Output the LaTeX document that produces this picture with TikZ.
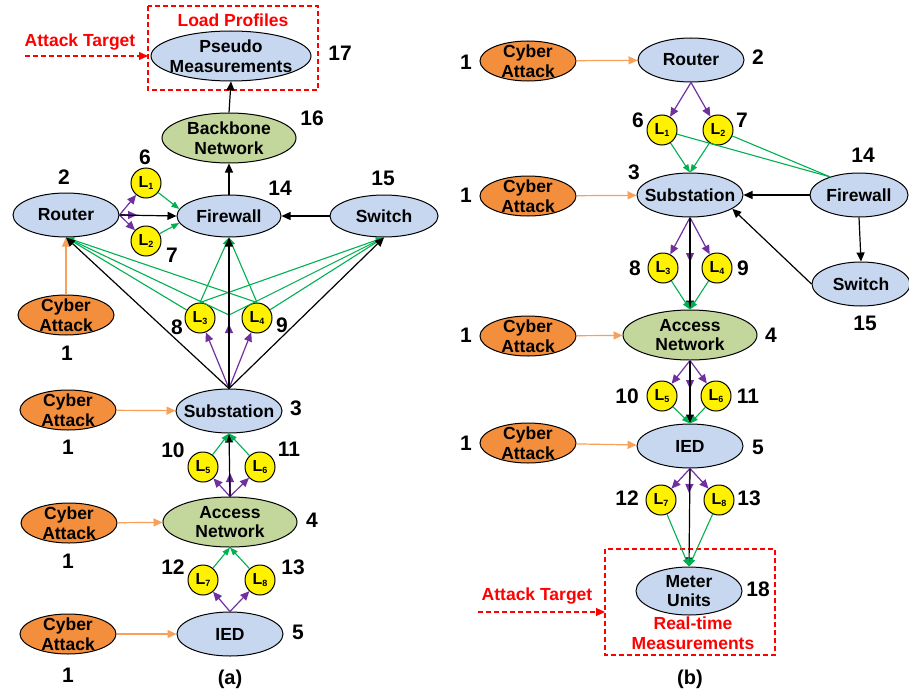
\documentclass[tikz,border=0pt]{standalone}
\usepackage{fontspec}
\setmainfont{Liberation Sans}
\usetikzlibrary{shapes.geometric,arrows.meta}
\definecolor{nodeblue}{HTML}{C6D7EF}
\definecolor{nodegreen}{HTML}{C3D69B}
\definecolor{atkorange}{HTML}{F38E3C}
\definecolor{atkline}{HTML}{F7A059}
\definecolor{linkpurple}{HTML}{7030A0}
\definecolor{linkgreen}{HTML}{00B050}
\newcommand\linkL[1]{L\raisebox{-2.5pt}{\fontsize{9}{9}\selectfont #1}}
\begin{document}
\begin{tikzpicture}[x=1pt,y=-1pt,
  txt/.style={font=\fontsize{17.5}{19.5}\selectfont\bfseries, align=center},
  num/.style={font=\fontsize{21}{24}\selectfont\bfseries, inner sep=0},
  captxt/.style={font=\fontsize{20}{24}\selectfont\bfseries, inner sep=0},
  ell/.style={ellipse, draw, line width=1pt, inner sep=-12pt, txt},
  netb/.style={ell, fill=nodeblue, minimum width=106pt, minimum height=44pt},
  netg/.style={ell, fill=nodegreen, minimum width=134pt, minimum height=50pt},
  atk/.style={ell, fill=atkorange, minimum width=96pt, minimum height=40pt},
  lnk/.style={circle, draw, fill=yellow, minimum size=30pt, inner sep=0,
    line width=1pt, font=\fontsize{16}{16}\selectfont\bfseries},
  blk/.style={draw=black, line width=1.2pt, -{Triangle[length=9pt,width=8pt]}},
  pur/.style={draw=linkpurple, line width=1.2pt, -{Triangle[length=9pt,width=8pt]}},
  grn/.style={draw=linkgreen, line width=1.1pt, -{Triangle[length=8pt,width=6pt]}},
  grnline/.style={draw=linkgreen, line width=1.1pt},
  org/.style={draw=atkline, line width=1.2pt, -{Triangle[length=9pt,width=8pt]}},
  tgtbox/.style={draw=red, line width=1.2pt, dash pattern=on 5pt off 3pt},
  tgtarrow/.style={draw=red, line width=1.2pt, dash pattern=on 5pt off 3pt,
    -{Triangle[length=9pt,width=8pt]}},
  redtxt/.style={txt, text=red, inner sep=0},
]
\useasboundingbox (0,0) rectangle (909,693);

% ================= (a) =================
\node[netb, minimum width=160pt, minimum height=50pt] (pma) at (231,56) {Pseudo\\Measurements};
\node[netg] (bba) at (229,138) {Backbone\\Network};
\node[netb, minimum width=104pt, minimum height=42pt] (fwa) at (229,216) {Firewall};
\node[netb] (rta) at (66,215) {Router};
\node[netb, minimum width=108pt, minimum height=42pt] (swa) at (384,216) {Switch};
\node[lnk] (la1) at (146,183) {\linkL1};
\node[lnk] (la2) at (146,241) {\linkL2};
\node[lnk] (la3) at (200,318) {\linkL3};
\node[lnk] (la4) at (257,318) {\linkL4};
\node[netb] (sba) at (229,411) {Substation};
\node[lnk] (la5) at (203,467) {\linkL5};
\node[lnk] (la6) at (260,467) {\linkL6};
\node[netg] (ana) at (230,522) {Access\\Network};
\node[lnk] (la7) at (203,580) {\linkL7};
\node[lnk] (la8) at (260,580) {\linkL8};
\node[netb] (ieda) at (230,634) {IED};
\node[atk] (caa1) at (66,315) {Cyber\\Attack};
\node[atk] (caa2) at (68,410) {Cyber\\Attack};
\node[atk] (caa3) at (69,523) {Cyber\\Attack};
\node[atk] (caa4) at (68,634) {Cyber\\Attack};

% target box
\draw[tgtbox] (148,6) rectangle (318,90);
\node[redtxt] (lpa) at (233,20) {Load Profiles};
\node[redtxt] (ata) at (80,42) {Attack Target};
\coordinate (tga0) at (25,56);
\coordinate (tga1) at (148,56);
\draw[tgtarrow] (tga0) -- (tga1);

% mid-link points
\coordinate (ma1) at (137,215);
\coordinate (ma2) at (229,324);
\coordinate (ja2) at (229,315);
\coordinate (ma3) at (230,473);

% attacks
\draw[org] (caa1.north) -- (rta.south);
\draw[org] (caa2) -- (sba);
\draw[org] (caa3) -- (ana);
\draw[org] (caa4) -- (ieda);

% router -> firewall
\draw[pur] (rta.east) -- (la1);
\draw[pur] (rta.east) -- (la2);
\draw[pur] (rta.east) -- (ma1);
\draw[blk] (rta.east) -- (fwa.west);
\draw[grn] (la1) -- (fwa.172);
\draw[grn] (la2) -- (fwa.188);
\draw[blk] (swa.west) -- (fwa.east);
\draw[blk] (fwa.north) -- (bba.south);
\draw[blk] (bba.north) -- (pma.south);

% substation -> router / firewall / switch
\draw[grn] (la3) -- (rta.south);
\draw[grn] (la3.north) -- (fwa.south);
\draw[grn] (la3.north) -- (swa.south);
\draw[grn] (la4.north) -- (rta.south);
\draw[grn] (la4.north) -- (fwa.south);
\draw[grn] (la4) -- (swa.south);
\draw[grn] (ja2) -- (rta.south);
\draw[grn] (ja2) -- (swa.south);
\draw[pur] (sba.north) -- (la3);
\draw[pur] (sba.north) -- (la4);
\draw[pur] (sba.north) -- (ma2);
\draw[blk] (sba.north) -- (rta.south);
\draw[blk] (sba.north) -- (fwa.south);
\draw[blk] (sba.north) -- (swa.south);

% access network -> substation
\draw[pur] (ana.north) -- (la5);
\draw[pur] (ana.north) -- (la6);
\draw[pur] (ana.north) -- (ma3);
\draw[blk] (ana.north) -- (sba.south);
\draw[grn] (la5) -- (sba.south);
\draw[grn] (la6) -- (sba.south);

% IED -> access network
\draw[pur] (ieda.north) -- (la7);
\draw[pur] (ieda.north) -- (la8);
\draw[grn] (la7) -- (ana.south);
\draw[grn] (la8) -- (ana.south);

% numbers (a)
\node[num] (na17) at (340,53) {17};
\node[num] (na16) at (312,118) {16};
\node[num] (na6) at (145,157) {6};
\node[num] (na2) at (64,177) {2};
\node[num] (na14) at (280,188) {14};
\node[num] (na15) at (383,178) {15};
\node[num] (na7) at (172,255) {7};
\node[num] (na8) at (177,327) {8};
\node[num] (na9) at (282,325) {9};
\node[num] (na1a) at (67,353) {1};
\node[num] (na3) at (296,408) {3};
\node[num] (na1b) at (68,447) {1};
\node[num] (na10) at (173,450) {10};
\node[num] (na11) at (289,449) {11};
\node[num] (na4) at (312,520) {4};
\node[num] (na1c) at (68,561) {1};
\node[num] (na12) at (173,567) {12};
\node[num] (na13) at (293,567) {13};
\node[num] (na5) at (298,632) {5};
\node[num] (na1d) at (68,675) {1};
\node[captxt] (capa) at (230,679) {(a)};

% ================= (b) =================
\node[atk] (cab1) at (528,61) {Cyber\\Attack};
\node[netb] (rtb) at (691,60) {Router};
\node[lnk] (lb1) at (662,130) {\linkL1};
\node[lnk] (lb2) at (718,130) {\linkL2};
\node[netb] (sbb) at (690,195) {Substation};
\node[atk] (cab2) at (528,196) {Cyber\\Attack};
\node[netb, minimum width=98pt] (fwb) at (859,195) {Firewall};
\node[netb, minimum width=98pt] (swb) at (861,284) {Switch};
\node[lnk] (lb3) at (663,268) {\linkL3};
\node[lnk] (lb4) at (717,268) {\linkL4};
\node[netg] (anb) at (690,335) {Access\\Network};
\node[atk] (cab3) at (528,336) {Cyber\\Attack};
\node[lnk] (lb5) at (662,396) {\linkL5};
\node[lnk] (lb6) at (716,396) {\linkL6};
\node[netb] (iedb) at (690,446) {IED};
\node[atk] (cab4) at (528,443) {Cyber\\Attack};
\node[lnk] (lb7) at (661,500) {\linkL7};
\node[lnk] (lb8) at (719,500) {\linkL8};
\node[netb, minimum height=48pt] (mub) at (689,591) {Meter\\Units};

% target box
\draw[tgtbox] (605,549) rectangle (775,655);
\node[redtxt] (rtm) at (693,633) {Real-time\\Measurements};
\node[redtxt] (atb) at (537,596) {Attack Target};
\coordinate (tgb0) at (478,612);
\coordinate (tgb1) at (605,612);
\draw[tgtarrow] (tgb0) -- (tgb1);

% mid-link points
\coordinate (mb2) at (690,262);
\coordinate (mb3) at (690,389);
\coordinate (mb4) at (689,493);

% attacks
\draw[org] (cab1) -- (rtb);
\draw[org] (cab2) -- (sbb);
\draw[org] (cab3) -- (anb);
\draw[org] (cab4) -- (iedb);

% router -> substation
\draw[pur] (rtb.south) -- (lb1);
\draw[pur] (rtb.south) -- (lb2);
\draw[grn] (lb1) -- (sbb.north);
\draw[grn] (lb2) -- (sbb.north);
\draw[grnline] (lb1) -- (fwb.148);
\draw[grnline] (lb2) -- (fwb.148);

% firewall / switch
\draw[blk] (fwb.west) -- (sbb.east);
\draw[blk] (fwb.south) -- (swb.north);
\draw[blk] (swb.west) -- (sbb.-18);

% substation -> access network
\draw[pur] (sbb.south) -- (lb3);
\draw[pur] (sbb.south) -- (lb4);
\draw[pur] (sbb.south) -- (mb2);
\draw[blk] (sbb.south) -- (anb.north);
\draw[grn] (lb3) -- (anb.north);
\draw[grn] (lb4) -- (anb.north);

% access network -> IED
\draw[pur] (anb.south) -- (lb5);
\draw[pur] (anb.south) -- (lb6);
\draw[pur] (anb.south) -- (mb3);
\draw[blk] (anb.south) -- (iedb.north);
\draw[grn] (lb5) -- (iedb.north);
\draw[grn] (lb6) -- (iedb.north);

% IED -> meter units
\draw[pur] (iedb.south) -- (lb7);
\draw[pur] (iedb.south) -- (lb8);
\draw[pur] (iedb.south) -- (mb4);
\draw[blk] (iedb.south) -- (mub.north);
\draw[grn] (lb7) -- (mub.north);
\draw[grn] (lb8) -- (mub.north);

% numbers (b)
\node[num] (nb1a) at (466,62) {1};
\node[num] (nb2) at (758,57) {2};
\node[num] (nb6) at (638,120) {6};
\node[num] (nb7) at (742,120) {7};
\node[num] (nb3) at (634,172) {3};
\node[num] (nb1b) at (466,195) {1};
\node[num] (nb14) at (863,155) {14};
\node[num] (nb8) at (635,268) {8};
\node[num] (nb9) at (743,268) {9};
\node[num] (nb15) at (865,323) {15};
\node[num] (nb1c) at (466,335) {1};
\node[num] (nb4) at (771,335) {4};
\node[num] (nb10) at (627,396) {10};
\node[num] (nb11) at (748,396) {11};
\node[num] (nb1d) at (466,443) {1};
\node[num] (nb5) at (758,447) {5};
\node[num] (nb12) at (627,498) {12};
\node[num] (nb13) at (749,498) {13};
\node[num] (nb18) at (758,589) {18};
\node[captxt] (capb) at (690,679) {(b)};
\end{tikzpicture}
\end{document}
